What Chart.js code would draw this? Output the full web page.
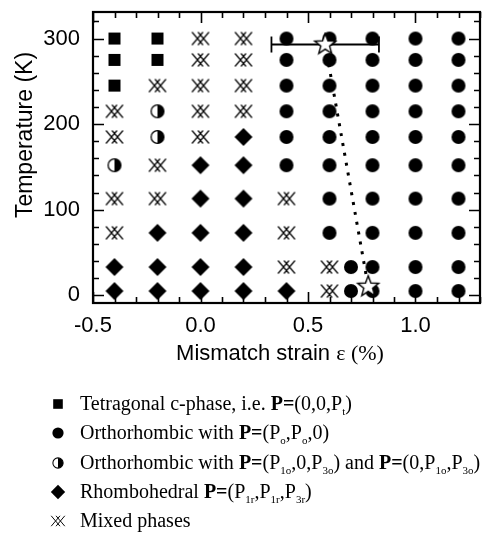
<!DOCTYPE html>
<html>
<head>
<meta charset="utf-8">
<script src="https://cdn.jsdelivr.net/npm/chart.js@4.4.1/dist/chart.umd.min.js"></script>
<style>
  body { margin: 0; background: #fff; }
  #wrap { position: relative; width: 498px; height: 543px; }
  .leg { position: absolute; left: 0; font-family: "Liberation Serif", "Times New Roman", serif; font-size: 20px; color: #000; white-space: nowrap; line-height: 24px; }
  .leg canvas { position: absolute; }
  .leg span { position: absolute; left: 80px; top: 0; }
  .leg sub { font-size: 11px; vertical-align: -5px; }
</style>
</head>
<body>
<div id="wrap">
  <canvas id="phaseChart" width="498" height="543"></canvas>
</div>
<script>
// Phase diagram: mismatch strain vs temperature
const strainCols = [-0.4, -0.2, 0.0, 0.2, 0.4, 0.6, 0.8, 1.0, 1.2];
const tempRows = [300, 275, 245, 215, 185, 152, 113, 73, 33, 5];
// T = tetragonal, O = orthorhombic, H = orthorhombic (P1o,0,P3o), R = rhombohedral, M = mixed
const phaseGrid = [
    'TTMMOOOOO',
    'TTMMOOOOO',
    'TMMMOOOOO',
    'MHMMOOOOO',
    'MHMROOOOO',
    'HMRROOOOO',
    'MMRRMOOOO',
    'MRRRMOOOO',
    'RRRRMMOOO',
    'RRRRRMOOO'
];
// extra orthorhombic points at 0.7 %
const extraStrain = [0.7, 0.7];
const extraTemp = [33, 5];

// stars (experiment) with error bar on the upper one
const starStrain = [0.58, 0.78];
const starTemp = [293, 10];
const errStrain = [0.33, 0.83];

const xTickLabels = [-0.5, 0.0, 0.5, 1.0];
const yTickLabels = [0, 100, 200, 300];

const legendItems = [
    ['T', 'Tetragonal c-phase, i.e. <b>P=</b>(0,0,P<sub>t</sub>)'],
    ['O', 'Orthorhombic with <b>P=</b>(P<sub>o</sub>,P<sub>o</sub>,0)'],
    ['H', 'Orthorhombic with <b>P=</b>(P<sub>1o</sub>,0,P<sub>3o</sub>) and <b>P=</b>(0,P<sub>1o</sub>,P<sub>3o</sub>)'],
    ['R', 'Rhombohedral <b>P=</b>(P<sub>1r</sub>,P<sub>1r</sub>,P<sub>3r</sub>)'],
    ['M', 'Mixed phases']
];

const SANS = '"Liberation Sans", Arial, sans-serif';
const SERIF = '"Liberation Serif", "Times New Roman", serif';

// Build marker images
function makeMarker(kind, s) {
    const size = Math.ceil(24 * s) + 2;
    const c = document.createElement('canvas');
    c.width = size; c.height = size;
    const g = c.getContext('2d');
    g.translate(size / 2, size / 2);
    g.scale(s, s);
    g.fillStyle = '#000';
    g.strokeStyle = '#000';
    if (kind === 'T') {
        g.fillRect(-6, -6, 12, 12);
    } else if (kind === 'O') {
        g.beginPath(); g.arc(0, 0, 7, 0, Math.PI * 2); g.fill();
    } else if (kind === 'H') {
        g.beginPath(); g.arc(0, 0, 6.4, 0, Math.PI * 2);
        g.fillStyle = '#fff'; g.fill();
        g.lineWidth = 1.3; g.stroke();
        g.beginPath(); g.arc(0, 0, 6.4, -Math.PI / 2, Math.PI / 2); g.closePath();
        g.fillStyle = '#000'; g.fill();
    } else if (kind === 'R') {
        g.beginPath(); g.moveTo(0, -9); g.lineTo(9, 0); g.lineTo(0, 9); g.lineTo(-9, 0); g.closePath(); g.fill();
    } else if (kind === 'M') {
        g.lineWidth = 1.2;
        g.beginPath();
        g.moveTo(-8.5, -6.5); g.lineTo(2.5, 6.5);
        g.moveTo(-8.5, 6.5); g.lineTo(2.5, -6.5);
        g.moveTo(-2.5, -6.5); g.lineTo(8.5, 6.5);
        g.moveTo(-2.5, 6.5); g.lineTo(8.5, -6.5);
        g.stroke();
    } else if (kind === 'S') {
        g.beginPath();
        for (let i = 0; i < 10; i++) {
            const r = i % 2 === 0 ? 11 : 4.6;
            const a = -Math.PI / 2 + i * Math.PI / 5;
            g.lineTo(r * Math.cos(a), r * Math.sin(a));
        }
        g.closePath();
        g.fillStyle = '#fff'; g.fill();
        g.lineWidth = 1.4; g.stroke();
    }
    return c;
}

function phasePoints(code) {
    const pts = [];
    phaseGrid.forEach((row, i) => {
        row.split('').forEach((p, j) => {
            if (p === code) pts.push({ x: strainCols[j], y: tempRows[i] });
        });
    });
    if (code === 'O') extraStrain.forEach((x, k) => pts.push({ x: x, y: extraTemp[k] }));
    return pts;
}

const phaseSets = ['T', 'O', 'H', 'R', 'M'].map(code => ({
    data: phasePoints(code),
    pointStyle: makeMarker(code, 1),
    pointRadius: 8,
    showLine: false,
    order: 3
}));

// Axes box, inside ticks and titles
const framePlugin = {
    id: 'frame',
    afterDraw(chart) {
        const { ctx, chartArea: a, scales } = chart;
        ctx.save();
        ctx.strokeStyle = '#000';
        ctx.lineWidth = 1.6;
        for (let k = -5; k <= 13; k++) {
            const v = k / 10;
            const px = Math.round(scales.x.getPixelForValue(v)) + 0.5;
            const len = k % 5 === 0 ? 11 : 6;
            ctx.beginPath();
            ctx.moveTo(px, a.bottom); ctx.lineTo(px, a.bottom - len);
            ctx.moveTo(px, a.top); ctx.lineTo(px, a.top + len);
            ctx.stroke();
        }
        for (let t = 0; t <= 320; t += 20) {
            const py = Math.round(scales.y.getPixelForValue(t)) + 0.5;
            const len = t % 100 === 0 ? 11 : 6;
            ctx.beginPath();
            ctx.moveTo(a.left, py); ctx.lineTo(a.left + len, py);
            ctx.moveTo(a.right, py); ctx.lineTo(a.right - len, py);
            ctx.stroke();
        }
        ctx.lineWidth = 2.2;
        ctx.strokeRect(a.left, a.top, a.right - a.left, a.bottom - a.top);

        // x title: sans part + serif part
        ctx.fillStyle = '#000';
        ctx.textBaseline = 'alphabetic';
        const partA = 'Mismatch strain ';
        const partB = '\u03b5 (%)';
        ctx.font = '22px ' + SANS;
        const wA = ctx.measureText(partA).width;
        ctx.font = '22px ' + SERIF;
        const wB = ctx.measureText(partB).width;
        const x0 = 280 - (wA + wB) / 2;
        ctx.font = '22px ' + SANS;
        ctx.textAlign = 'left';
        ctx.fillText(partA, x0, 360);
        ctx.font = '22px ' + SERIF;
        ctx.fillText(partB, x0 + wA, 360);

        // y title
        ctx.translate(26, 135);
        ctx.rotate(-Math.PI / 2);
        ctx.font = '23px ' + SANS;
        ctx.textAlign = 'center';
        ctx.textBaseline = 'middle';
        ctx.fillText('Temperature (K)', 0, 0);
        ctx.restore();
    }
};

new Chart(document.getElementById('phaseChart'), {
    type: 'scatter',
    data: {
        datasets: [
            {
                data: starStrain.map((x, i) => ({ x: x, y: starTemp[i] })),
                pointStyle: makeMarker('S', 1),
                pointRadius: 11,
                showLine: false,
                order: 0
            },
            {
                data: errStrain.map(x => ({ x: x, y: starTemp[0] })),
                showLine: true,
                borderColor: '#000',
                borderWidth: 1.8,
                pointStyle: 'line',
                rotation: 90,
                pointRadius: 8,
                pointBorderWidth: 1.8,
                pointBorderColor: '#000',
                order: 1
            },
            {
                data: starStrain.map((x, i) => ({ x: x, y: starTemp[i] })),
                showLine: true,
                borderColor: '#000',
                borderWidth: 3,
                borderDash: [3, 7],
                pointRadius: 0,
                order: 2
            },
            ...phaseSets
        ]
    },
    options: {
        responsive: false,
        animation: false,
        layout: { padding: { left: 0, right: 18, top: 5, bottom: 0 } },
        plugins: { legend: { display: false }, tooltip: { enabled: false } },
        scales: {
            x: {
                type: 'linear',
                min: -0.5,
                max: 1.3,
                grid: { display: false, drawTicks: false },
                border: { display: false },
                ticks: {
                    color: '#000',
                    padding: 10,
                    maxRotation: 0,
                    font: { size: 22, family: SANS },
                    callback: v => v.toFixed(1)
                },
                afterBuildTicks: s => { s.ticks = xTickLabels.map(v => ({ value: v })); },
                afterFit: s => { s.height = 240; s.paddingLeft = 0; s.paddingRight = 0; }
            },
            y: {
                type: 'linear',
                min: -9,
                max: 331,
                grid: { display: false, drawTicks: false },
                border: { display: false },
                ticks: {
                    color: '#000',
                    padding: 13,
                    font: { size: 22, family: SANS }
                },
                afterBuildTicks: s => { s.ticks = yTickLabels.map(v => ({ value: v })); },
                afterFit: s => { s.width = 93; s.paddingTop = 0; s.paddingBottom = 0; }
            }
        }
    },
    plugins: [framePlugin]
});

// Legend below the chart
const wrap = document.getElementById('wrap');
legendItems.forEach(([code, html], i) => {
    const cy = 404 + i * 29.3;
    const row = document.createElement('div');
    row.className = 'leg';
    row.style.top = (cy - 13) + 'px';
    row.style.width = '498px';
    const m = makeMarker(code, 0.8);
    m.style.left = (58 - m.width / 2) + 'px';
    m.style.top = (13 - m.height / 2) + 'px';
    row.appendChild(m);
    const t = document.createElement('span');
    t.innerHTML = html;
    row.appendChild(t);
    wrap.appendChild(row);
});
</script>
</body>
</html>
